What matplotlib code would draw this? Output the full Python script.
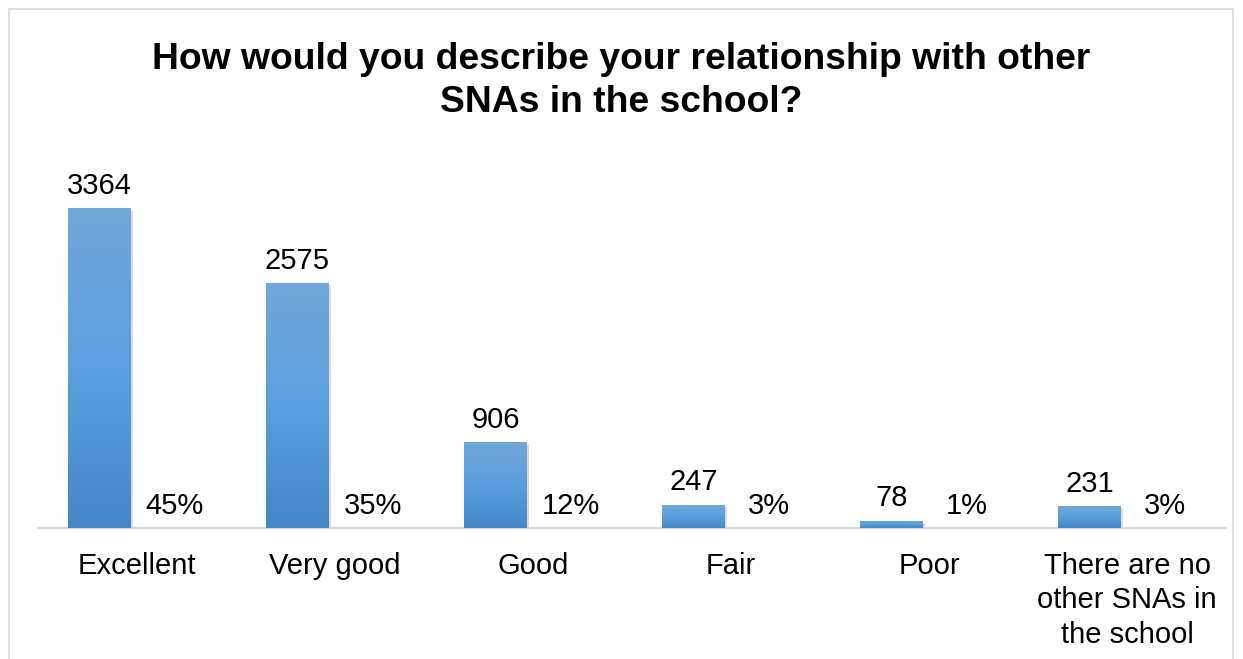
import numpy as np
import matplotlib
matplotlib.use("Agg")
import matplotlib.pyplot as plt
from matplotlib.patches import Rectangle
from matplotlib.colors import LinearSegmentedColormap
import matplotlib.patheffects as pe

plt.rcParams['font.family'] = ['Liberation Sans', 'DejaVu Sans']

# data
categories = ["Excellent", "Very good", "Good", "Fair", "Poor",
              "There are no\nother SNAs in\nthe school"]
counts = [3364, 2575, 906, 247, 78, 231]
percents = [45, 35, 12, 3, 1, 3]

fig = plt.figure(figsize=(12.43, 6.59), dpi=100)
ax = fig.add_axes([38/1243, 131/659, 1188/1243, 380/659])

x = np.arange(len(categories))
w = 0.314
off = 0.19

bars = ax.bar(x - off, counts, width=w, color="#5b9bd5", zorder=2)

# gradient fill + shadow for each bar
grad = np.linspace(0, 1, 256).reshape(-1, 1)
cmap = LinearSegmentedColormap.from_list("g", ["#4486c6", "#5b9fdf", "#72a7d9"])
for b in bars:
    b.set_path_effects([pe.SimplePatchShadow(offset=(1.5, -1.5), shadow_rgbFace="#999999", alpha=0.35),
                        pe.Normal()])
    bx, by = b.get_x(), b.get_y()
    bw, bh = b.get_width(), b.get_height()
    im = ax.imshow(grad, extent=[bx, bx + bw, by, by + bh], origin="lower",
                   aspect="auto", cmap=cmap, zorder=3)
    im.set_clip_path(b)

ax.set_xlim(-0.5, len(categories) - 0.5)
ax.set_ylim(0, 4000)

# percent series (practically zero height on the count axis)
pbars = ax.bar(x + off, [p / 100 for p in percents], width=w, color="#5b9bd5", zorder=2)

ax.bar_label(bars, labels=[str(c) for c in counts], padding=6, fontsize=21, color="black")
ax.bar_label(pbars, labels=[f"{p}%" for p in percents], padding=6, fontsize=21, color="black")

ax.set_xticks(x)
ax.set_xticklabels(categories, fontsize=21, linespacing=1.3)
ax.tick_params(axis="x", length=0, pad=17)
ax.set_yticks([])
for s in ["top", "right", "left"]:
    ax.spines[s].set_visible(False)
ax.spines["bottom"].set_color("#d9d9d9")
ax.spines["bottom"].set_linewidth(1.5)
ax.set_facecolor("none")

fig.text(0.5, 1 - 81/659, "How would you describe your relationship with other\nSNAs in the school?",
         ha="center", va="center", fontsize=26.8, fontweight="bold", linespacing=1.3)

# outer chart border
fig.patches.append(Rectangle((9/1243, -0.01), 1224/1243, 1 - 9/659 + 0.01,
                             transform=fig.transFigure, fill=False,
                             edgecolor="#d9d9d9", linewidth=1.2))

fig.savefig("out.png", dpi=100)
